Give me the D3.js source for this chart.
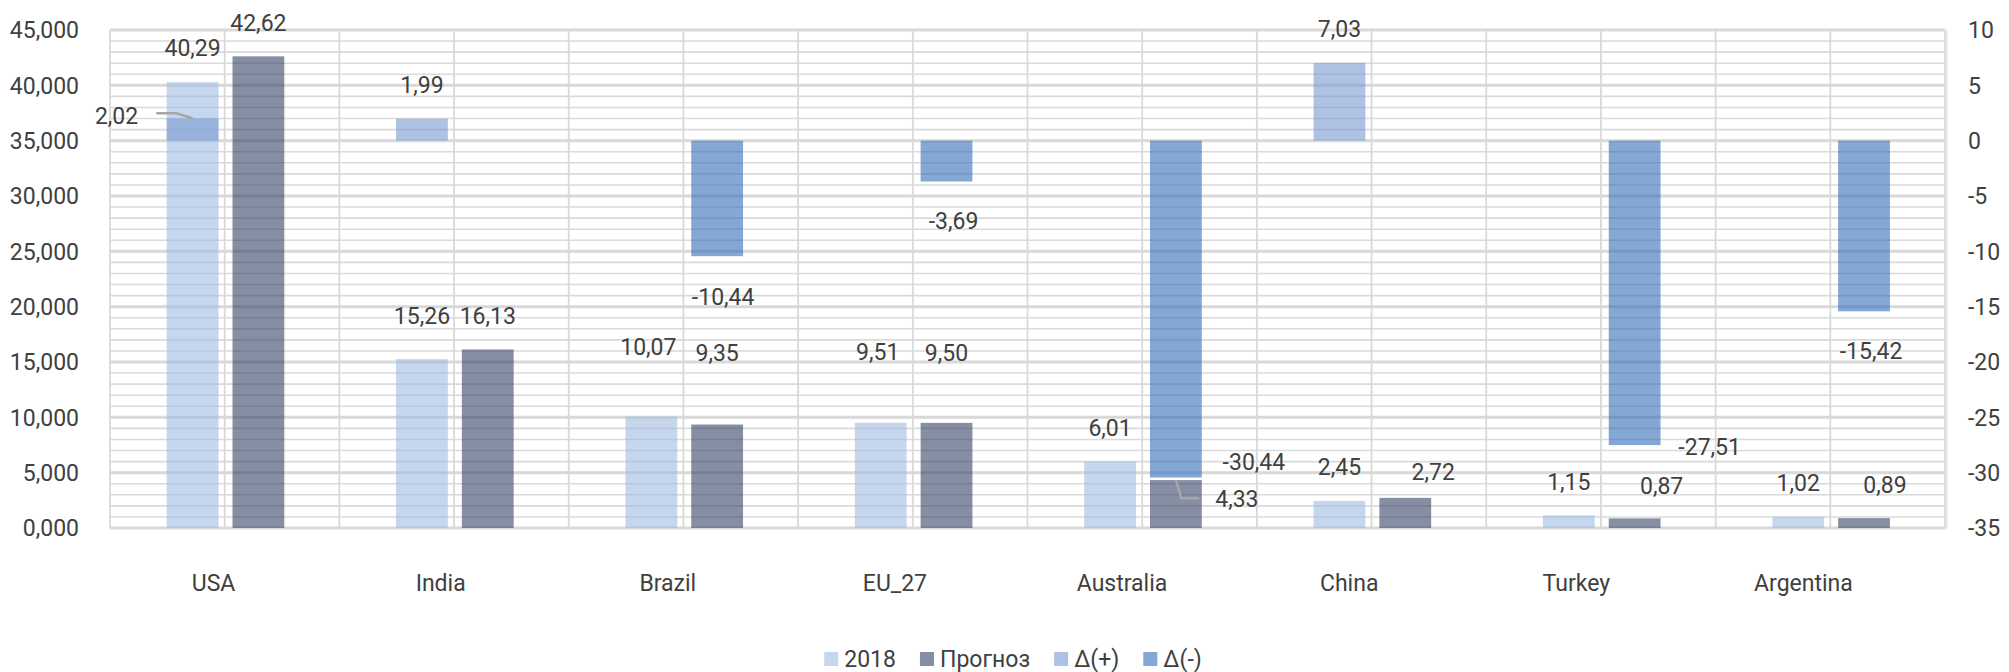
<!DOCTYPE html>
<html>
<head>
<meta charset="utf-8">
<script src="https://cdn.jsdelivr.net/npm/d3@7"></script>
<style>
  html, body { margin: 0; padding: 0; background: #ffffff; }
  svg text { font-family: Roboto, "DejaVu Sans", sans-serif; fill: #404040; }
</style>
</head>
<body>
<svg id="chart" width="2009" height="672"></svg>
<script>
// ---- data ----
const categories = ["USA", "India", "Brazil", "EU_27", "Australia", "China", "Turkey", "Argentina"];
const values2018 = [40.29, 15.26, 10.07, 9.51, 6.01, 2.45, 1.15, 1.02];
const valuesForecast = [42.62, 16.13, 9.35, 9.50, 4.33, 2.72, 0.87, 0.89];
const deltaPlus = [2.02, 1.99, null, null, null, 7.03, null, null];
const deltaMinus = [null, null, -10.44, -3.69, -30.44, null, -27.51, -15.42];
const leftTicks = [0, 5, 10, 15, 20, 25, 30, 35, 40, 45];
const rightTicks = [-35, -30, -25, -20, -15, -10, -5, 0, 5, 10];
const seriesNames = ["2018", "Прогноз", "Δ(+)", "Δ(-)"];

// ---- layout ----
const plot = { left: 110, right: 1945, top: 30, bottom: 528 };
const fontSize = 23;
const svg = d3.select("#chart");

const y = d3.scaleLinear().domain([0, 45]).range([plot.bottom, plot.top]);
const yR = d3.scaleLinear().domain([-35, 10]).range([plot.bottom, plot.top]);
const x0 = d3.scaleBand().domain(categories).range([plot.left, plot.right]);
const bw = x0.bandwidth();
const x1 = d3.scaleBand().domain([0, 1])
  .range([bw / 2 - 58, bw / 2 + 59.6]).paddingInner(0.213);
const xLabels = d3.scaleBand().domain(categories).range([100, 1917]);

// decimal comma, plain hyphen for negatives
const fmtComma = (v, d) => d3.format("." + d + "f")(v).replace(".", ",").replace("\u2212", "-");

const series = [
  { name: seriesNames[0], values: values2018, slot: 0, scale: y, color: "rgb(160,188,225)" },
  { name: seriesNames[1], values: valuesForecast, slot: 1, scale: y, color: "rgb(52,67,102)" },
  { name: seriesNames[2], values: deltaPlus, slot: 0, scale: yR, color: "rgb(120,155,208)" },
  { name: seriesNames[3], values: deltaMinus, slot: 1, scale: yR, color: "rgb(52,108,182)" }
];
const barOpacity = 0.6;

// ---- gridlines ----
const grid = svg.append("g");
grid.selectAll("line.minor").data(y.ticks(45)).join("line")
  .attr("x1", plot.left).attr("x2", plot.right)
  .attr("y1", d => y(d)).attr("y2", d => y(d))
  .attr("stroke", "#dadada").attr("stroke-width", 1.6);
grid.selectAll("line.major").data(leftTicks).join("line")
  .attr("x1", plot.left).attr("x2", plot.right)
  .attr("y1", d => y(d)).attr("y2", d => y(d))
  .attr("stroke", "#d9d9d9").attr("stroke-width", 3);

const vLines = [];
categories.forEach(c => { vLines.push(x0(c)); vLines.push(x0(c) + bw / 2); });
vLines.push(plot.right);
grid.selectAll("line.v").data(vLines).join("line")
  .attr("x1", d => d).attr("x2", d => d)
  .attr("y1", plot.top).attr("y2", plot.bottom)
  .attr("stroke", "#d9d9d9").attr("stroke-width", 1.8);
grid.append("line").attr("x1", plot.right + 1.5).attr("x2", plot.right + 1.5)
  .attr("y1", plot.top).attr("y2", plot.bottom + 1)
  .attr("stroke", "#e6e6e6").attr("stroke-width", 2);

// ---- bars ----
const bars = [];
series.forEach(s => {
  s.values.forEach((v, i) => {
    if (v === null) return;
    const cx = x0(categories[i]) + x1(s.slot);
    bars.push({ s, v, cat: categories[i], x: cx, w: x1.bandwidth(),
      y0: s.scale(0), y1: s.scale(v) });
  });
});
svg.append("g").selectAll("rect").data(bars).join("rect")
  .attr("x", d => d.x).attr("width", d => d.w)
  .attr("y", d => Math.min(d.y0, d.y1))
  .attr("height", d => Math.abs(d.y0 - d.y1))
  .attr("fill", d => d.s.color).attr("fill-opacity", barOpacity);

// ---- axes ----
const axL = svg.append("g");
axL.selectAll("text").data(leftTicks).join("text")
  .attr("x", 79).attr("y", d => y(d)).attr("dy", "0.36em")
  .attr("text-anchor", "end").attr("font-size", fontSize)
  .text(d => fmtComma(d, 3));
const axR = svg.append("g");
axR.selectAll("text").data(rightTicks).join("text")
  .attr("x", 1968).attr("y", d => yR(d)).attr("dy", "0.36em")
  .attr("text-anchor", "start").attr("font-size", fontSize)
  .text(d => fmtComma(d, 0));
svg.append("g").selectAll("text").data(categories).join("text")
  .attr("x", d => xLabels(d) + xLabels.bandwidth() / 2).attr("y", 583).attr("dy", "0.36em")
  .attr("text-anchor", "middle").attr("font-size", fontSize)
  .text(d => d);

// ---- value labels ----
// default: centred above positive bars, below negative ones; some labels are moved aside
const labelNudge = {
  "2018|India": [0, -9], "2018|Brazil": [-3, -36], "2018|EU_27": [-3, -37],
  "Прогноз|Brazil": [0, -38], "Прогноз|EU_27": [0, -36], "Прогноз|China": [28, 8],
  "Прогноз|Turkey": [27, 1], "Прогноз|Argentina": [21, 1],
  "Прогноз|Australia": [61, 53, "leader"],
  "Δ(+)|USA": [-76, 31, "leader"],
  "Δ(-)|Australia": [71, -55], "Δ(-)|Turkey": [68, -37], "Δ(-)|Brazil": [-1, 2]
};
const lblG = svg.append("g");
const leaderG = svg.append("g");
bars.forEach(b => {
  const cx = b.x + b.w / 2;
  const n = labelNudge[b.s.name + "|" + b.cat] || [0, 0];
  let lx, ly;
  if (b.v >= 0) { lx = cx; ly = b.y1 - 34; } else { lx = cx + 7; ly = b.y1 + 39; }
  lx += n[0]; ly += n[1];
  const t = lblG.append("text")
    .attr("x", lx).attr("y", ly).attr("dy", "0.36em")
    .attr("text-anchor", "middle").attr("font-size", fontSize)
    .text(fmtComma(b.v, 2));
  if (n[2] === "leader") {
    const bb = t.node().getBBox();
    let pts;
    if (lx < cx) {
      const ex = bb.x + bb.width + 18, ey = ly - 2;
      pts = [[ex, ey], [ex + 20, ey], [cx, b.y1]];
    } else {
      const ex = bb.x - 16, ey = ly - 1;
      pts = [[ex, ey], [ex - 18, ey], [cx, b.y1]];
    }
    leaderG.append("path").attr("d", d3.line()(pts))
      .attr("fill", "none").attr("stroke", "#a6a6a6").attr("stroke-width", 2.6);
  }
});

// ---- legend ----
const legend = svg.append("g");
let lxPos = 0;
series.forEach(s => {
  const g = legend.append("g").attr("transform", `translate(${lxPos},0)`);
  g.append("rect").attr("x", 0).attr("y", -7).attr("width", 14).attr("height", 14)
    .attr("fill", s.color).attr("fill-opacity", barOpacity);
  const t = g.append("text").attr("x", 20).attr("y", 0).attr("dy", "0.36em")
    .attr("font-size", fontSize).text(s.name);
  const w = t.node().getComputedTextLength();
  lxPos += 20 + w + 24;
});
const totalW = lxPos - 24;
legend.attr("transform", `translate(${1013 - totalW / 2},659)`);
</script>
</body>
</html>
